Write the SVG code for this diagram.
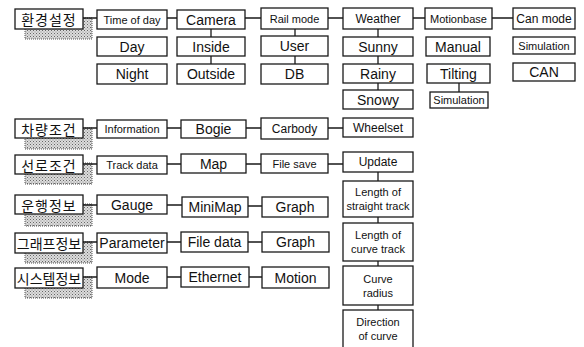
<svg xmlns="http://www.w3.org/2000/svg" width="584" height="347" viewBox="0 0 584 347">
<defs>
<pattern id="dots" width="3" height="3" patternUnits="userSpaceOnUse"><rect width="3" height="3" fill="#dcdcdc"/><rect width="1" height="1" fill="#666"/><rect x="1.5" y="1.5" width="1" height="1" fill="#888"/></pattern>
</defs>
<style>
.b{fill:#fff;stroke:#1a1a1a;stroke-width:1.3}
.s{fill:url(#dots);stroke:#555;stroke-width:1;stroke-dasharray:1 1}
.t{font-family:"Liberation Sans",Arial,sans-serif;font-size:14px;fill:#111;text-anchor:middle;dominant-baseline:central}
.m{font-size:12px}
.sm{font-size:11px}
.k{font-family:"Noto Sans CJK KR","Noto Sans CJK SC",sans-serif;font-size:14px;font-weight:400;fill:#111;text-anchor:middle;dominant-baseline:central}
.c{stroke:#1a1a1a;stroke-width:1.3;fill:none}
</style>
<rect width="584" height="347" fill="#fff"/>

<g id="n-env"><rect class="s" x="25" y="18" width="67" height="21"/><rect class="b" x="15" y="9" width="68" height="20"/><text class="k" x="49" y="19" letter-spacing="1">환경설정</text></g>
<g id="n-veh"><rect class="s" x="25" y="128" width="67" height="21"/><rect class="b" x="15" y="119" width="68" height="19"/><text class="k" x="49" y="128.5" letter-spacing="1">차량조건</text></g>
<g id="n-track"><rect class="s" x="25" y="163" width="67" height="21"/><rect class="b" x="15" y="155" width="68" height="19"/><text class="k" x="49" y="164.5" letter-spacing="1">선로조건</text></g>
<g id="n-op"><rect class="s" x="25" y="204" width="67" height="22"/><rect class="b" x="15" y="195" width="68" height="19"/><text class="k" x="49" y="204.5" letter-spacing="1">운행정보</text></g>
<g id="n-graph"><rect class="s" x="25" y="242" width="67" height="21"/><rect class="b" x="15" y="233" width="68" height="20"/><text class="k" x="49" y="243" font-size="13">그래프정보</text></g>
<g id="n-sys"><rect class="s" x="25" y="277" width="67" height="21"/><rect class="b" x="15" y="268" width="68" height="20"/><text class="k" x="49" y="278" font-size="13">시스템정보</text></g>

<g id="n-timeofday"><rect class="b" x="97" y="10" width="70" height="19"/><text class="t sm" x="132" y="19.5">Time of day</text></g>
<g id="n-day"><rect class="b" x="97" y="37" width="70" height="19"/><text class="t" x="132" y="46.5">Day</text></g>
<g id="n-night"><rect class="b" x="97" y="64" width="70" height="20"/><text class="t" x="132" y="74">Night</text></g>
<g id="n-camera"><rect class="b" x="177" y="10" width="68" height="19"/><text class="t" x="211" y="19.5">Camera</text></g>
<g id="n-inside"><rect class="b" x="177" y="37" width="68" height="19"/><text class="t" x="211" y="46.5">Inside</text></g>
<g id="n-outside"><rect class="b" x="177" y="64" width="68" height="20"/><text class="t" x="211" y="74">Outside</text></g>
<g id="n-railmode"><rect class="b" x="261" y="8" width="67" height="21"/><text class="t sm" x="294.5" y="19">Rail mode</text></g>
<g id="n-user"><rect class="b" x="261" y="36" width="67" height="20"/><text class="t" x="294.5" y="46">User</text></g>
<g id="n-db"><rect class="b" x="261" y="64" width="67" height="20"/><text class="t" x="294.5" y="74">DB</text></g>
<g id="n-weather"><rect class="b" x="343" y="8" width="70" height="21"/><text class="t m" x="378" y="19">Weather</text></g>
<g id="n-sunny"><rect class="b" x="343" y="37" width="70" height="19"/><text class="t" x="378" y="46.5">Sunny</text></g>
<g id="n-rainy"><rect class="b" x="343" y="64" width="70" height="19"/><text class="t" x="378" y="73.5">Rainy</text></g>
<g id="n-snowy"><rect class="b" x="343" y="90" width="70" height="19"/><text class="t" x="378" y="99.5">Snowy</text></g>
<g id="n-motionbase"><rect class="b" x="425" y="8" width="67" height="21"/><text class="t sm" x="458.5" y="19">Motionbase</text></g>
<g id="n-manual"><rect class="b" x="426" y="37" width="64" height="19"/><text class="t" x="458" y="46.5">Manual</text></g>
<g id="n-tilting"><rect class="b" x="427" y="64" width="63" height="19"/><text class="t" x="458.5" y="73.5">Tilting</text></g>
<g id="n-mb-sim"><rect class="b" x="430" y="92" width="58" height="16"/><text class="t sm" x="459" y="100">Simulation</text></g>
<g id="n-canmode"><rect class="b" x="513" y="8" width="62" height="21"/><text class="t m" x="544" y="18.5">Can mode</text></g>
<g id="n-can-sim"><rect class="b" x="513" y="37" width="62" height="17"/><text class="t sm" x="544" y="45.5">Simulation</text></g>
<g id="n-can"><rect class="b" x="513" y="63" width="62" height="18"/><text class="t" x="544" y="72">CAN</text></g>

<g id="n-information"><rect class="b" x="97" y="120" width="70" height="18"/><text class="t sm" x="132" y="129">Information</text></g>
<g id="n-bogie"><rect class="b" x="181" y="120" width="65" height="18"/><text class="t" x="213.5" y="129">Bogie</text></g>
<g id="n-carbody"><rect class="b" x="261" y="118" width="67" height="21"/><text class="t m" x="294.5" y="128.5">Carbody</text></g>
<g id="n-wheelset"><rect class="b" x="343" y="118" width="70" height="19"/><text class="t m" x="378" y="127.5">Wheelset</text></g>

<g id="n-trackdata"><rect class="b" x="97" y="156" width="70" height="18"/><text class="t sm" x="132" y="165">Track data</text></g>
<g id="n-map"><rect class="b" x="181" y="154" width="65" height="19"/><text class="t" x="213.5" y="163.5">Map</text></g>
<g id="n-filesave"><rect class="b" x="261" y="154" width="67" height="19"/><text class="t sm" x="294.5" y="163.5">File save</text></g>
<g id="n-update"><rect class="b" x="343" y="152" width="70" height="20"/><text class="t m" x="378" y="162">Update</text></g>
<g id="n-straight"><rect class="b" x="343" y="181" width="70" height="36"/><text class="t sm" x="378" y="192">Length of</text><text class="t sm" x="378" y="206">straight track</text></g>
<g id="n-curvelen"><rect class="b" x="343" y="223" width="70" height="38"/><text class="t sm" x="378" y="235">Length of</text><text class="t sm" x="378" y="249">curve track</text></g>
<g id="n-radius"><rect class="b" x="343" y="266" width="70" height="39"/><text class="t sm" x="378" y="279">Curve</text><text class="t sm" x="378" y="293">radius</text></g>
<g id="n-direction"><rect class="b" x="343" y="310" width="70" height="38"/><text class="t sm" x="378" y="322">Direction</text><text class="t sm" x="378" y="336">of curve</text></g>

<g id="n-gauge"><rect class="b" x="97" y="195" width="70" height="19"/><text class="t" x="132" y="204.5">Gauge</text></g>
<g id="n-minimap"><rect class="b" x="182" y="197" width="66" height="20"/><text class="t" x="215" y="207">MiniMap</text></g>
<g id="n-graph1"><rect class="b" x="262" y="197" width="66" height="20"/><text class="t" x="295" y="207">Graph</text></g>

<g id="n-parameter"><rect class="b" x="97" y="233" width="70" height="20"/><text class="t" x="132" y="243">Parameter</text></g>
<g id="n-filedata"><rect class="b" x="181" y="232" width="67" height="20"/><text class="t" x="214.5" y="242">File data</text></g>
<g id="n-graph2"><rect class="b" x="262" y="232" width="67" height="20"/><text class="t" x="295.5" y="242">Graph</text></g>

<g id="n-mode"><rect class="b" x="97" y="267" width="70" height="21"/><text class="t" x="132" y="277.5">Mode</text></g>
<g id="n-ethernet"><rect class="b" x="181" y="267" width="68" height="20"/><text class="t" x="215" y="277">Ethernet</text></g>
<g id="n-motion"><rect class="b" x="262" y="267" width="67" height="21"/><text class="t" x="295.5" y="277.5">Motion</text></g>

<g id="connectors" class="c">
<path d="M83 18H97M167 18H177M245 18H261M328 18H343M413 18H425M492 18H513"/>
<path d="M211 29V37M211 56V64M295 29V36M295 56V64M378 29V37M378 56V64M378 83V90M459 83V92"/>
<path d="M83 128H97M167 128H181M246 128H261M328 128H343"/>
<path d="M83 164H97M167 164H181M246 164H261M328 164H343"/>
<path d="M378 172V181M378 217V223M378 261V266M378 305V310"/>
<path d="M83 205H97M167 205H182M248 206H262"/>
<path d="M83 242H97M167 242H181M248 242H262"/>
<path d="M83 277H97M167 277H181M249 277H262"/>
</g>
</svg>
